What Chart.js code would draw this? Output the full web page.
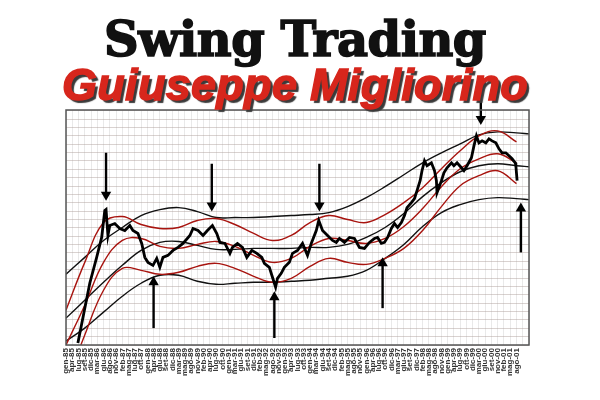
<!DOCTYPE html>
<html>
<head>
<meta charset="utf-8">
<script src="https://cdn.jsdelivr.net/npm/chart.js@4"></script>
<style>
  body { margin: 0; background: #fff; }
  #wrap { position: relative; width: 600px; height: 400px; }
  #chart { position: absolute; left: 0; top: 0; }
  .t { position: absolute; left: 0; width: 590px; text-align: center; line-height: 1; white-space: nowrap; }
  #t1 { top: 11px; font: bold 48px "DejaVu Serif", serif; color: #111; letter-spacing: -0.5px; -webkit-text-stroke: 1.6px #111; }
  #t2 { top: 59px; font: italic bold 45px "Liberation Sans", sans-serif; color: #d7261c; letter-spacing: 0.3px;
        -webkit-text-stroke: 1.4px #d7261c; text-shadow: 3px 3px 1px #3a3a3a; }
</style>
</head>
<body>
<div id="wrap">
  <canvas id="chart" width="600" height="400"></canvas>
  <div class="t" id="t1">Swing Trading</div>
  <div class="t" id="t2">Guiuseppe Migliorino</div>
</div>
<script>
var tickLabels = ['gen-85','apr-85','lug-85','set-85','dic-85','mar-86','giu-86','ago-86','nov-86',
    'feb-87','mag-87','lug-87','ott-87','gen-88','apr-88','giu-88','set-88','dic-88','mar-89','mag-89',
    'ago-89','nov-89','feb-90','apr-90','lug-90','ott-90','gen-91','mar-91','giu-91','set-91','dic-91',
    'feb-92','mag-92','ago-92','nov-92','gen-93','apr-93','lug-93','ott-93','gen-94','mar-94','giu-94',
    'set-94','dic-94','feb-95','mag-95','ago-95','nov-95','gen-96','apr-96','lug-96','ott-96','dic-96',
    'mar-97','giu-97','set-97','dic-97','feb-98','mag-98','ago-98','nov-98','gen-99','apr-99','lug-99',
    'ott-99','dic-99','mar-00','giu-00','set-00','nov-00','feb-01','mag-01','ago-01']

// price (x = position on the label axis)
var priceX = [1.9,3.8,4.9,5.7,6.2,6.4,6.7,7.0,7.8,8.6,9.4,10.2,10.7,11.5,12.1,12.6,13.1,13.9,14.5,15.0,
    15.5,16.3,17.1,17.9,18.7,19.8,20.3,21.1,21.9,22.6,23.4,24.1,24.6,25.4,26.2,26.6,27.4,28.2,28.9,29.7,
    30.5,31.3,31.7,32.5,33.0,33.5,33.8,34.4,34.9,35.7,36.2,37.0,37.8,38.6,39.2,40.0,40.4,41.0,41.8,42.6,
    43.2,43.7,44.5,45.3,46.1,46.9,47.7,48.5,49.3,49.8,50.4,50.9,51.4,52.0,52.5,53.0,53.6,54.1,54.5,55.2,
    55.7,56.1,56.6,56.9,57.3,57.7,58.4,58.9,59.2,59.3,60.0,60.4,60.9,61.6,62.0,62.5,63.2,63.6,64.1,64.8,
    65.2,65.6,66.0,66.5,67.1,67.6,68.1,68.7,69.2,69.7,70.3,70.8,71.3,71.8,71.9,72.1]
var priceY = [2,62,88,108,135,136,110,120,122,117,115,120,115,112,102,88,83,80,87,78,
    88,90,95,98,102,110,117,115,110,115,120,112,103,102,92,98,102,98,88,95,
    92,88,82,78,68,58,67,72,78,83,92,95,102,90,102,115,125,115,110,105,
    103,107,103,108,107,98,97,103,107,108,102,103,108,117,122,118,123,130,138,143,
    147,155,165,175,185,180,183,175,165,153,165,173,178,183,180,183,178,175,180,188,
    200,210,203,205,203,207,205,203,197,193,193,190,187,183,180,165]

// channels
var bandX = [0,3,6,9,12,15,18,21,24,27,30,33,36,39,42,45,48,51,54,57,60,63,66,69,72,74]
var blackUpper = [71,88,105,118,130,136,138,134,128,128,128,129,130,131,133,139,148,159,171,183,193,202,211,214,213,212]
var blackMid = [27,45,63,80,95,103,104,100,96,96,97,97,97,98,98,101,108,118,132,149,163,174,180,182,180,179]
var blackLower = [4,17,33,49,62,70,70,64,61,62,63,63,64,65,67,69,75,87,101,119,133,141,146,148,147,146]
var redUpper = [35,83,123,129,121,117,118,125,127,121,112,105,110,123,130,126,123,131,143,158,177,195,210,215,204]
var redMid = [0,40,83,105,107,99,97,101,104,99,90,83,87,99,107,105,102,107,119,137,159,177,187,192,183]
var redLower = [-40,10,55,77,75,71,73,79,82,77,69,63,67,79,87,83,81,87,97,115,139,160,170,175,162]

// arrows: tail -> tip
var arrowX = [6.4,23.3,40.5,66.3,14.0,33.3,50.6,72.7]
var arrowTail = [193,182,182,245,17,7,37,93]
var arrowTip = [151,140,140,227,63,48,82,137]

function zip(xs, ys) {
    return ys.map(function(y, i) { return { x: xs[i], y: y } })
}

function band(label, values, color) {
    return {
        label: label,
        data: zip(bandX, values),
        borderColor: color,
        borderWidth: 1.4,
        pointRadius: 0,
        tension: 0.4,
        fill: false
    }
}

var arrows = arrowX.map(function(x, i) {
    var down = arrowTail[i] > arrowTip[i]
    return {
        label: 'arrow',
        data: [{ x: x, y: arrowTail[i] }, { x: x, y: arrowTip[i] }],
        borderColor: '#000',
        borderWidth: 2.4,
        pointRadius: [0, 6],
        pointStyle: 'triangle',
        pointRotation: down ? 180 : 0,
        pointBackgroundColor: '#000',
        pointBorderColor: '#000',
        pointBorderWidth: 0,
        clip: false
    }
})

var frame = {
    id: 'frame',
    afterDraw: function(chart) {
        var a = chart.chartArea, ctx = chart.ctx
        ctx.save()
        ctx.strokeStyle = '#555'
        ctx.lineWidth = 1.5
        ctx.strokeRect(a.left, a.top, a.right - a.left, a.bottom - a.top)
        ctx.restore()
    }
}

new Chart(document.getElementById('chart'), {
    type: 'line',
    data: {
        datasets: arrows.concat([{
            label: 'Prezzo',
            data: zip(priceX, priceY),
            borderColor: '#000',
            borderWidth: 2.8,
            pointRadius: 0,
            tension: 0
        },
            band('Banda sup.', redUpper, '#a8140f'),
            band('Media', redMid, '#a8140f'),
            band('Banda inf.', redLower, '#a8140f'),
            band('Canale sup.', blackUpper, '#111'),
            band('Centro', blackMid, '#111'),
            band('Canale inf.', blackLower, '#111')
        ])
    },
    options: {
        responsive: false,
        animation: false,
        layout: { padding: { top: 110, left: 66, right: 71, bottom: 0 } },
        plugins: { legend: { display: false }, tooltip: { enabled: false } },
        scales: {
            x: {
                type: 'linear',
                min: 0,
                max: 74,
                afterFit: function(scale) { scale.height = 55 },
                border: { display: false },
                grid: { color: 'rgba(200,200,200,0.4)', drawTicks: false },
                ticks: {
                    stepSize: 1,
                    autoSkip: false,
                    maxRotation: 90,
                    minRotation: 90,
                    padding: 3,
                    color: '#333',
                    font: { family: 'Liberation Sans', size: 8, weight: 'bold' },
                    callback: function(value) { return tickLabels[Math.round(value)] || '' }
                }
            },
            y: {
                min: 0,
                max: 236,
                afterFit: function(scale) { scale.width = 0 },
                border: { display: false },
                grid: { color: 'rgba(170,155,150,0.45)', drawTicks: false },
                ticks: { display: false, stepSize: 8.4 }
            }
        }
    },
    plugins: [frame]
})
</script>
</body>
</html>
